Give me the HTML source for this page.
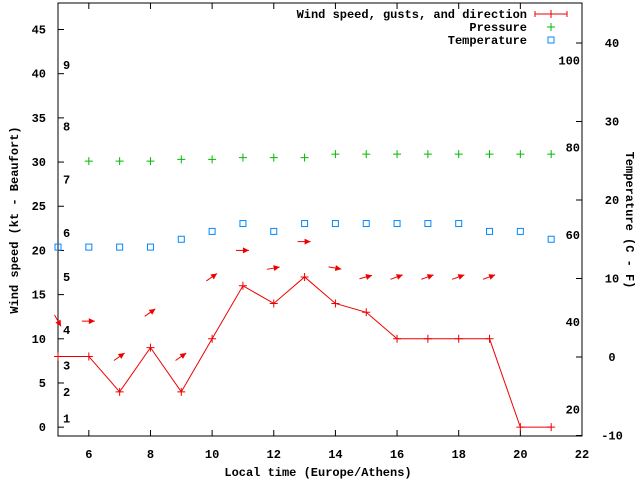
<!DOCTYPE html>
<html><head><meta charset="utf-8"><style>
body{margin:0;background:#fff}
svg{display:block;font-family:"Liberation Mono",monospace;font-size:12px;font-weight:bold}
</style></head><body>
<svg id="c" width="640" height="480" viewBox="0 0 640 480">
<g id="axes"></g>
<g id="marks"></g>
<g id="legend">
<text x="527" y="18" text-anchor="end">Wind speed, gusts, and direction</text>
<path d="M535 14H567M535 11V17M551 10V18M567 11V17" stroke="#e00" stroke-width="1" fill="none"/>
<text x="527" y="31" text-anchor="end">Pressure</text>
<path d="M547 27H555M551 23V31" stroke="#0b0"/>
<text x="527" y="44" text-anchor="end">Temperature</text>
<rect x="548" y="37" width="6" height="6" fill="none" stroke="#08f"/>
</g>
<text transform="translate(18,220) rotate(-90)" text-anchor="middle">Wind speed (kt - Beaufort)</text>
<text transform="translate(626,220) rotate(90)" text-anchor="middle">Temperature (C - F)</text>
<text x="318" y="476" text-anchor="middle">Local time (Europe/Athens)</text>
</svg>
<script>
const hours=[5,6,7,8,9,10,11,12,13,14,15,16,17,18,19,20,21];
const wind=[8,8,4,9,4,10,16,14,17,14,13,10,10,10,10,0,0];
const gust=[12,12,8,13,8,17,20,18,21,18,17,17,17,17,17,null,null];
const dirAngle=[60,0,-35,-35,-35,-35,0,-10,0,10,-15,-20,-20,-20,-20,0,0];
const pressure=[null,30.1,30.1,30.1,30.3,30.3,30.5,30.5,30.5,30.9,30.9,30.9,30.9,30.9,30.9,30.9,30.9];
const tempC=[14,14,14,14,15,16,17,16,17,17,17,17,17,17,16,16,15];
const xTicks=[6,8,10,12,14,16,18,20,22];
const yTicks=[0,5,10,15,20,25,30,35,40,45];
const y2Ticks=[-10,0,10,20,30,40];
const fTicks=[20,40,60,80,100];
const bftLabels=["1","2","3","4","5","6","7","8","9"];
const bftKt=[1,4,7,11,17,22,28,34,41];

const L=58,R=582,T=3,B=436;
const X=h=>L+(h-5)*(R-L)/17;
const Y=v=>B-(v+1)*(B-T)/49;
const Y2=c=>357-c*7.85;
const NS="http://www.w3.org/2000/svg";
function mk(p,tag,a){const e=document.createElementNS(NS,tag);for(const k in a)e.setAttribute(k,a[k]);p.appendChild(e);return e;}
const ax=document.getElementById('axes'),mg=document.getElementById('marks');
let e=mk(ax,'rect',{x:L,y:T,width:R-L,height:B-T,fill:'none',stroke:'#000'});


xTicks.forEach(t=>{const x=X(t);
 e=mk(ax,'path',{d:`M${x} ${B}v-6M${x} ${T}v6`,stroke:'#000'});
 
 
 e=mk(ax,'text',{x:x,y:B+22,'text-anchor':'middle'});e.textContent=t;
 
 });
yTicks.forEach(t=>{const y=Y(t);
 e=mk(ax,'path',{d:`M${L} ${y}h6`,stroke:'#000'});
 
 
 e=mk(ax,'text',{x:L-12,y:y+4,'text-anchor':'end'});e.textContent=t;
 
 });
y2Ticks.forEach(t=>{const y=Y2(t);
 e=mk(ax,'path',{d:`M${R} ${y}h-6`,stroke:'#000'});
 
 
 e=mk(ax,'text',{x:R+30,y:y+4,'text-anchor':'middle'});e.textContent=t;
 
 });
fTicks.forEach(f=>{const y=Y2((f-32)*5/9);
 e=mk(ax,'text',{x:R-2,y:y+4,'text-anchor':'end'});e.textContent=f;
 
 });
bftLabels.forEach((b,i)=>{
 e=mk(ax,'text',{x:63,y:Y(bftKt[i])+4});e.textContent=b;
 
 });
// pressure
hours.forEach((h,i)=>{if(pressure[i]==null)return;const x=X(h),y=Y(pressure[i]);
 e=mk(mg,'path',{d:`M${x-4} ${y}h8M${x} ${y-4}v8`,stroke:'#0b0'});
 
 });
// temperature
hours.forEach((h,i)=>{const x=X(h),y=Y2(tempC[i]);
 e=mk(mg,'rect',{x:x-3,y:y-3,width:6,height:6,fill:'none',stroke:'#08f'});
 
 });
// wind line
e=mk(mg,'polyline',{points:hours.map((h,i)=>X(h)+','+Y(wind[i])).join(' '),fill:'none',stroke:'#e00'});


hours.forEach((h,i)=>{const x=X(h),y=Y(wind[i]);
 e=mk(mg,'path',{d:`M${x-4} ${y}h8M${x} ${y-4}v8`,stroke:'#e00'});
 
 });
// gust arrows
hours.forEach((h,i)=>{if(gust[i]==null)return;const x=X(h),y=Y(gust[i]);
 const a=dirAngle[i]*Math.PI/180,c=Math.cos(a),s=Math.sin(a);
 const x0=x-7*c,y0=y-7*s,x1=x+6*c,y1=y+6*s;
 const hx=x1-6*c,hy=y1-6*s,px=-s*3,py=c*3;
 const g=mk(mg,'g',{});
 
 
 mk(g,'line',{x1:x0,y1:y0,x2:x1,y2:y1,stroke:'#e00'});
 mk(g,'polygon',{points:`${x1},${y1} ${hx+px},${hy+py} ${hx-px},${hy-py}`,fill:'#e00'});});
</script>
</body></html>
